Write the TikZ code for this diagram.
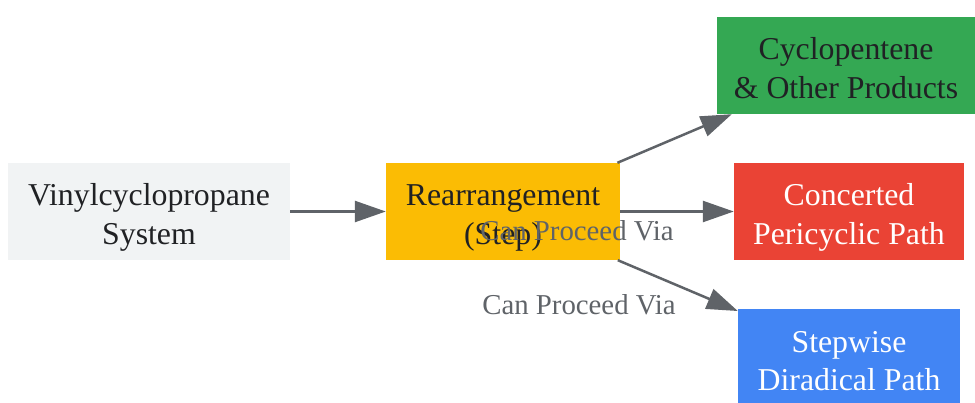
\documentclass[tikz,border=0pt]{standalone}
\usepackage{fontspec}
\setmainfont{Liberation Serif}
\usepackage{tikz}
\usetikzlibrary{positioning, arrows.meta}
\usepackage{xcolor}
\definecolor{boxgrey}{HTML}{F1F3F4}
\definecolor{boxyellow}{HTML}{FBBC04}
\definecolor{boxgreen}{HTML}{34A853}
\definecolor{boxred}{HTML}{EA4335}
\definecolor{boxblue}{HTML}{4285F4}
\definecolor{inkdark}{HTML}{202124}
\definecolor{linegrey}{HTML}{5F6368}
% two text lines with fixed top and bottom so every box centres alike
\newcommand{\twolines}[2]{\rule{0pt}{34pt}#1\\#2\rule[-7pt]{0pt}{7pt}}

\begin{document}
\begin{tikzpicture}[
    x=1pt, y=1pt,
    every node/.style={font=\fontsize{31.8}{38.5}\selectfont},
    box/.style={rectangle, inner sep=0pt, minimum height=97pt, align=center, text=inkdark},
    lbl/.style={font=\fontsize{28.8}{34}\selectfont, text=linegrey},
    flow/.style={-{Triangle[length=31pt, width=21pt]}, line width=2.5pt, color=linegrey}
]
    \useasboundingbox (0,0) rectangle (975,402);

    % Boxes placed at pixel centres (y measured from the bottom)
    \node[box, fill=boxgrey, minimum width=282pt] (vcp) at (149,190.5) {\twolines{Vinylcyclopropane}{System}};
    \node[box, fill=boxyellow, minimum width=234pt] (rearr) at (503,190.5) {\twolines{Rearrangement}{(Step)}};
    \node[box, fill=boxgreen, minimum width=258pt] (prod) at (846,336.5) {\twolines{Cyclopentene}{\& Other Products}};
    \node[box, fill=boxred, minimum width=230pt, text=white] (conc) at (849,190.5) {\twolines{Concerted}{Pericyclic Path}};
    \node[box, fill=boxblue, minimum width=222pt, text=white] (step) at (849,44) {\twolines{Stepwise}{Diradical Path}};

    % Connectors
    \path[flow]
        (vcp) edge (rearr)
        (rearr) edge (prod)
        (rearr) edge (conc)
        (rearr) edge (step);

    % Edge labels
    \node[lbl] (viaconc) at (577,171) {Can Proceed Via};
    \node[lbl] (viastep) at (579,97) {Can Proceed Via};
\end{tikzpicture}
\end{document}
